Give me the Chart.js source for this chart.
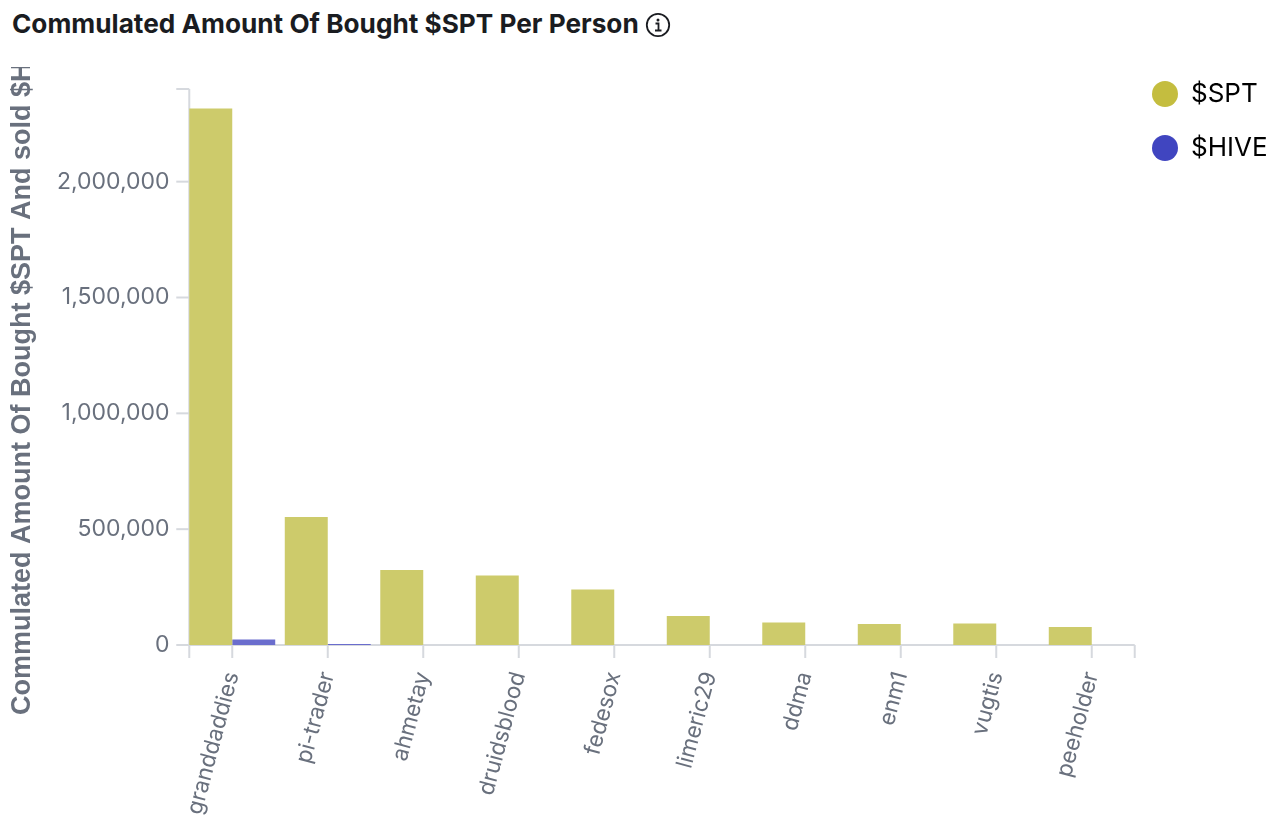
<!DOCTYPE html>
<html>
<head>
    <title>Commulated Amount Of Bought $SPT Per Person</title>
    <script src="https://cdn.jsdelivr.net/npm/chart.js"></script>
    <style>
        html, body { margin: 0; padding: 0; background: #fff; overflow: hidden; }
        #title { position: absolute; left: 12px; top: 8px; font: 700 26.2px Inter, sans-serif; color: #1a1c21; white-space: nowrap; display: flex; align-items: center; line-height: 32px; }
        #title svg { margin-left: 6px; position: relative; top: 1px; }
        #wrap { position: absolute; left: 0; top: 67px; width: 1280px; height: 750px; }
    </style>
</head>
<body>
    <div id="title">Commulated Amount Of Bought $SPT Per Person
        <svg width="26" height="26" viewBox="0 0 26 26"><circle cx="13" cy="13" r="11.2" fill="none" stroke="#1a1c21" stroke-width="1.8"/><circle cx="13" cy="8" r="1.5" fill="#1a1c21"/><path d="M10.5 11.5h3v7M10 18.5h6.5" fill="none" stroke="#1a1c21" stroke-width="1.8"/></svg>
    </div>
    <div id="wrap"><canvas id="kpiChart"></canvas></div>
    <script>
    const categories = ['granddaddies', 'pi-trader', 'ahmetay', 'druidsblood', 'fedesox', 'limeric29', 'ddma', 'enm1', 'vugtis', 'peeholder'];
    const sptValues = [2316000, 553000, 324000, 300000, 240000, 125000, 97000, 91000, 93000, 78000];
    const hiveValues = [24000, 4000, 0, 0, 0, 0, 0, 0, 0, 0];
    const yTicks = [0, 500000, 1000000, 1500000, 2000000];
    const yMax = 2400000;
    const seriesNames = ['$SPT', '$HIVE'];
    const legendColors = ['#c4bd3f', '#4045c0'];
    const axisColor = '#d6d9de';

    // axis lines and the end ticks at the edges of the bars
    const axisLines = {
        id: 'axisLines',
        afterLayout(chart) {
            // legend sits up in the right margin, not inside the plot
            const legend = chart.legend;
            legend.left = 1124;
            legend.right = 1280;
            legend.top = -14;
            legend.bottom = 200;
        },
        beforeDatasetsDraw(chart) {
            const x = chart.scales.x, y = chart.scales.y;
            const first = chart.getDatasetMeta(0).data[0];
            const last = chart.getDatasetMeta(1).data[categories.length - 1];
            const left = first.x - first.width / 2;
            const right = last.x + last.width / 2;
            const ctx = chart.ctx;
            ctx.save();
            ctx.strokeStyle = axisColor;
            ctx.lineWidth = 2;
            ctx.beginPath();
            ctx.moveTo(left, y.bottom); ctx.lineTo(right, y.bottom);
            ctx.moveTo(left, y.bottom); ctx.lineTo(left, y.bottom + 13);
            ctx.moveTo(right, y.bottom); ctx.lineTo(right, y.bottom + 13);
            ctx.moveTo(left, y.top); ctx.lineTo(left, y.bottom);
            ctx.moveTo(left, y.top); ctx.lineTo(left - 13, y.top);
            ctx.stroke();
            x.ticks.forEach((t, i) => {
                const px = x.getPixelForTick(i);
                ctx.beginPath(); ctx.moveTo(px, y.bottom); ctx.lineTo(px, y.bottom + 13); ctx.stroke();
            });
            yTicks.forEach(v => {
                const py = y.getPixelForValue(v);
                ctx.beginPath(); ctx.moveTo(left, py); ctx.lineTo(left - 13, py); ctx.stroke();
            });
            ctx.restore();
        }
    };

    new Chart(document.getElementById('kpiChart').getContext('2d'), {
        type: 'bar',
        data: {
            labels: categories,
            datasets: [
                { label: seriesNames[0], data: sptValues, backgroundColor: '#cdcb6b', barPercentage: 1, categoryPercentage: 0.9 },
                { label: seriesNames[1], data: hiveValues, backgroundColor: '#6a6dcd', barPercentage: 1, categoryPercentage: 0.9 }
            ]
        },
        options: {
            responsive: true,
            maintainAspectRatio: false,
            animation: false,
            layout: { padding: { top: 22, right: 140.5, bottom: 0, left: 0 } },
            plugins: {
                tooltip: { enabled: false },
                legend: {
                    position: 'chartArea',
                    align: 'start',
                    labels: {
                        color: '#3f424d',
                        font: { family: 'Inter', size: 26 },
                        usePointStyle: true,
                        pointStyleWidth: 26,
                        boxHeight: 18.4,
                        padding: 28,
                        generateLabels: chart => seriesNames.map((name, i) => ({
                            text: name, fillStyle: legendColors[i], strokeStyle: legendColors[i],
                            lineWidth: 0, pointStyle: 'circle', datasetIndex: i
                        }))
                    }
                }
            },
            scales: {
                x: {
                    grid: { display: false },
                    border: { display: false },
                    afterFit: s => { s.height = 172; },
                    ticks: {
                        autoSkip: false, minRotation: 75, maxRotation: 75, padding: 16,
                        color: '#69707d', font: { family: 'Inter', size: 22.5 }
                    }
                },
                y: {
                    min: 0,
                    max: yMax,
                    grid: { display: false },
                    border: { display: false },
                    afterFit: s => { s.width = 184.5; },
                    afterBuildTicks: s => { s.ticks = yTicks.map(v => ({ value: v })); },
                    title: {
                        display: true,
                        text: 'Commulated Amount Of Bought $SPT And sold $HIVE',
                        color: '#69707d',
                        font: { family: 'Liberation Sans', size: 27, weight: 'bold' },
                        padding: { top: 6, bottom: 0 }
                    },
                    ticks: {
                        padding: 7,
                        color: '#69707d',
                        font: { family: 'Inter', size: 23 },
                        callback: v => v.toLocaleString('en-US')
                    }
                }
            }
        },
        plugins: [axisLines]
    });
    </script>
</body>
</html>
